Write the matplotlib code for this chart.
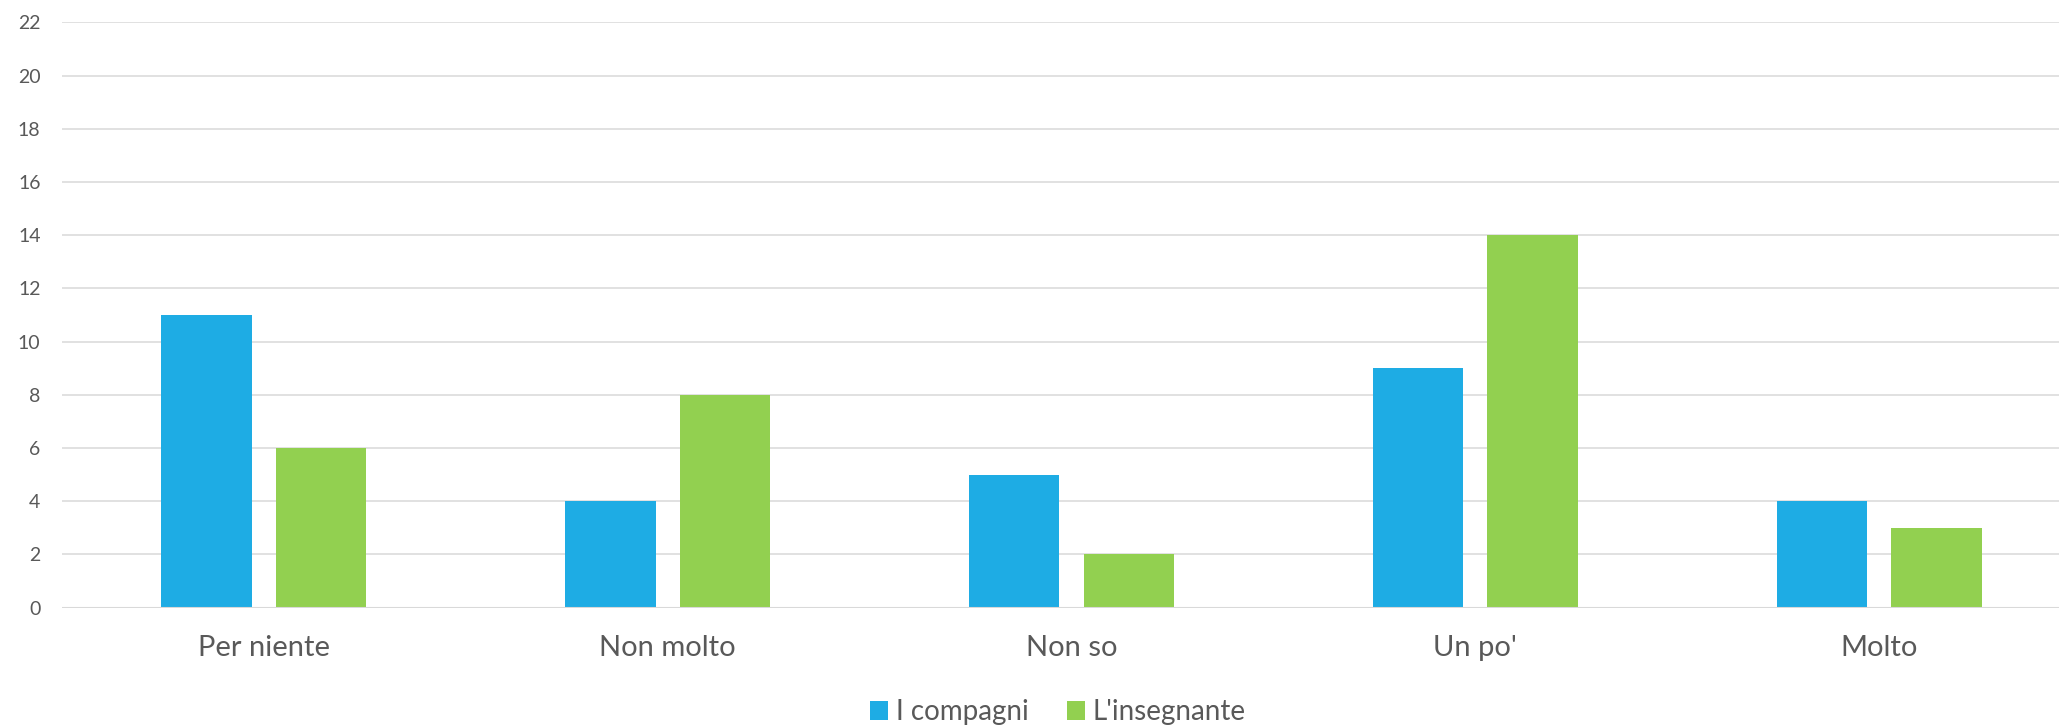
import matplotlib
matplotlib.use("Agg")
import matplotlib.pyplot as plt
import numpy as np

categories = ["Per niente", "Non molto", "Non so", "Un po'", "Molto"]
series_names = ["I compagni", "L'insegnante"]
compagni = [11, 4, 5, 9, 4]
insegnante = [6, 8, 2, 14, 3]
y_ticks = list(range(0, 23, 2))

blue = "#1EACE4"
green = "#92D050"
text_col = "#595959"
grid_col = "#D9D9D9"

plt.rcParams['font.family'] = ['Lato', 'DejaVu Sans']

W, H = 2059, 727
fig = plt.figure(figsize=(W / 100, H / 100), dpi=100)
ax = fig.add_axes([62 / W, 119.3 / H, 2019 / W, (704.7 - 119.3) / H])

x = np.arange(len(categories))
bw = 0.224
off = 0.142
ax.bar(x - off, compagni, width=bw, color=blue, label=series_names[0], zorder=3)
ax.bar(x + off, insegnante, width=bw, color=green, label=series_names[1], zorder=3)

ax.set_xlim(-0.5, len(categories) - 0.5)
ax.set_ylim(0, 22)
ax.set_yticks(y_ticks)
ax.set_xticks(x)
ax.set_xticklabels(categories)
ax.yaxis.grid(True, color=grid_col, linewidth=1.1, zorder=0)
ax.axhline(0, color=grid_col, linewidth=1.5, zorder=4)
ax.set_axisbelow(True)
for s in ax.spines.values():
    s.set_visible(False)
ax.tick_params(axis='y', length=0, pad=15.5, labelsize=14, labelcolor=text_col)
ax.tick_params(axis='x', length=0, pad=20, labelsize=21, labelcolor=text_col)

fig.legend(loc='center', bbox_to_anchor=(1058 / W, 1 - 712 / H), ncol=2, frameon=False,
           fontsize=20, labelcolor=text_col, handlelength=0.65, handleheight=0.65,
           handletextpad=0.3, columnspacing=1.35, borderpad=0, borderaxespad=0)

fig.savefig("out.png", dpi=100, facecolor="white")
